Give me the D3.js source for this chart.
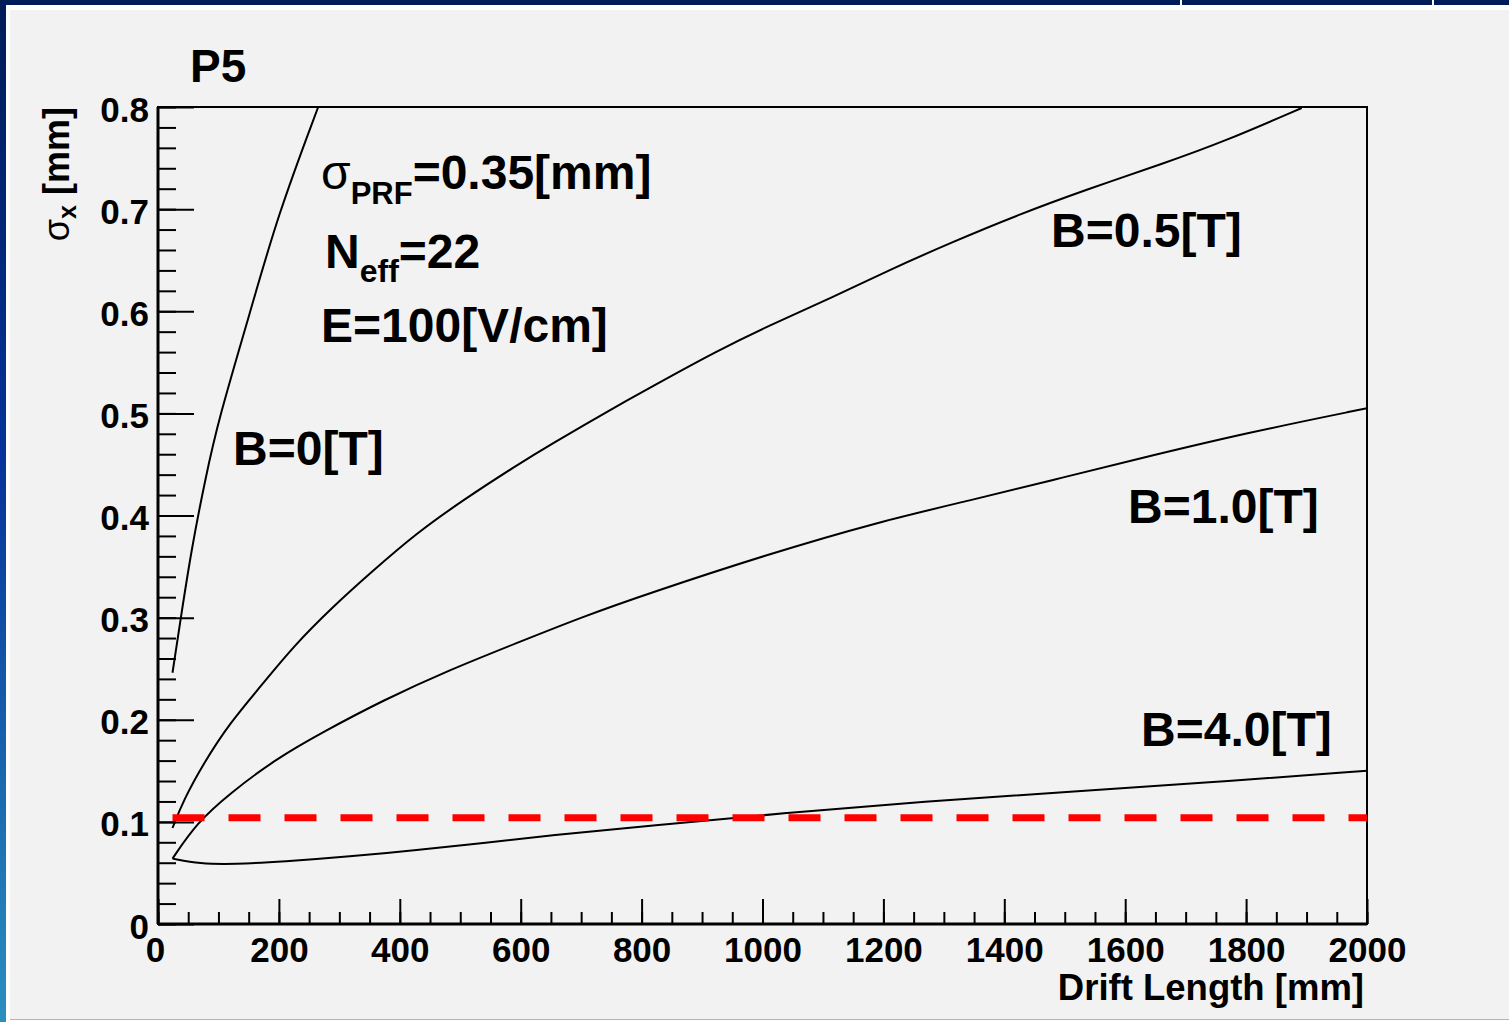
<!DOCTYPE html>
<html>
<head>
<meta charset="utf-8">
<script src="https://cdn.jsdelivr.net/npm/d3@7"></script>
<style>
  body { margin: 0; background: #ffffff; overflow: hidden; }
  text { font-family: "Liberation Sans", Arial, Helvetica, sans-serif; font-weight: bold; fill: #000; }
</style>
</head>
<body>
<div id="my_dataviz"></div>
<script>
// sigma_x [mm] vs drift length [mm]
var curveB00 = [[24, 0.246], [38, 0.301], [56, 0.369], [78, 0.435], [100, 0.494],
  [152, 0.598], [198, 0.694], [265, 0.800]];
var curveB05 = [[24, 0.094], [42, 0.121], [75, 0.157], [119, 0.197], [169, 0.232],
  [224, 0.272], [290, 0.311], [350, 0.343], [428, 0.383], [507, 0.416], [593, 0.449],
  [648, 0.469], [747, 0.503], [813, 0.525], [927, 0.562], [1011, 0.586], [1117, 0.614],
  [1208, 0.640], [1315, 0.668], [1421, 0.694], [1535, 0.719], [1665, 0.745],
  [1763, 0.766], [1892, 0.799]];
var curveB10 = [[24, 0.064], [64, 0.099], [119, 0.128], [196, 0.162], [273, 0.188],
  [372, 0.219], [483, 0.249], [593, 0.275], [703, 0.301], [813, 0.324], [1003, 0.361],
  [1193, 0.394], [1345, 0.415], [1482, 0.435], [1611, 0.454], [1801, 0.481], [2000, 0.505]];
var curveB40 = [[24, 0.064], [69, 0.059], [125, 0.0585], [207, 0.061], [317, 0.066],
  [428, 0.0725], [538, 0.079], [648, 0.087], [813, 0.096], [1041, 0.109], [1269, 0.120],
  [1497, 0.129], [1725, 0.138], [2000, 0.150]];
// red dashed requirement line
var limitLine = [[24, 0.104], [2000, 0.104]];

var xTicks = [0, 200, 400, 600, 800, 1000, 1200, 1400, 1600, 1800, 2000];
var xTickLabels = ["0", "200", "400", "600", "800", "1000", "1200", "1400", "1600", "1800", "2000"];
var yTicks = [0, 0.1, 0.2, 0.3, 0.4, 0.5, 0.6, 0.7, 0.8];
var yTickLabels = ["0", "0.1", "0.2", "0.3", "0.4", "0.5", "0.6", "0.7", "0.8"];
var curveLabels = ["B=0[T]", "B=0.5[T]", "B=1.0[T]", "B=4.0[T]"];

// set the dimensions and margins of the graph
var W = 1509, H = 1022;
var margin = { top: 107, right: 142, bottom: 98, left: 158 },
  width = W - margin.left - margin.right,
  height = H - margin.top - margin.bottom;

var root = d3.select("#my_dataviz")
  .append("svg")
  .attr("width", W)
  .attr("height", H);

// slide background remnants: blue borders and grey canvas
var grad = root.append("defs").append("linearGradient")
  .attr("id", "sideGrad").attr("x1", 0).attr("y1", 0).attr("x2", 0).attr("y2", 1);
grad.append("stop").attr("offset", "0%").attr("stop-color", "#001b57");
grad.append("stop").attr("offset", "45%").attr("stop-color", "#06349a");
grad.append("stop").attr("offset", "100%").attr("stop-color", "#2a8fbf");

root.append("rect").attr("x", 0).attr("y", 0).attr("width", W).attr("height", 5).attr("fill", "#001b57");
root.append("rect").attr("x", 0).attr("y", 0).attr("width", 6).attr("height", H).attr("fill", "url(#sideGrad)");
root.append("rect").attr("x", 10).attr("y", 10).attr("width", W - 10).attr("height", 1009).attr("fill", "#f2f2f2");
root.append("line").attr("x1", 10).attr("x2", W).attr("y1", 1019.5).attr("y2", 1019.5)
  .attr("stroke", "#b4b4b4").attr("stroke-width", 1);
[1181, 1433].forEach(function (xx) {
  root.append("line").attr("x1", xx).attr("x2", xx).attr("y1", 0).attr("y2", 5)
    .attr("stroke", "#ffffff").attr("stroke-width", 2);
});

var svg = root.append("g")
  .attr("transform", "translate(" + margin.left + "," + margin.top + ")");

var x = d3.scaleLinear().domain([0, 2000]).range([0, width]);
var y = d3.scaleLinear().domain([0, 0.8]).range([height, 0]);

svg.append("clipPath").attr("id", "plotClip")
  .append("rect").attr("width", width).attr("height", height);

// minor ticks
svg.append("g")
  .attr("transform", "translate(0," + height + ")")
  .call(d3.axisBottom(x).tickValues(d3.range(0, 2001, 50)).tickSize(-12).tickFormat(""))
  .call(function (g) { g.select(".domain").remove(); });
svg.append("g")
  .call(d3.axisLeft(y).tickValues(d3.range(0, 41).map(function (i) { return i * 0.02; })).tickSize(-18).tickFormat(""))
  .call(function (g) { g.select(".domain").remove(); });

// major ticks + labels
var xAxis = svg.append("g")
  .attr("transform", "translate(0," + height + ")")
  .call(d3.axisBottom(x).tickValues(xTicks).tickSize(-25).tickPadding(13)
    .tickFormat(function (d, i) { return xTickLabels[i]; }));
var yAxis = svg.append("g")
  .call(d3.axisLeft(y).tickValues(yTicks).tickSize(-36).tickPadding(9)
    .tickFormat(function (d, i) { return yTickLabels[i]; }));

[xAxis, yAxis].forEach(function (g) {
  g.select(".domain").remove();
  g.attr("font-size", 35).attr("font-family", null);
});
yAxis.selectAll("text").attr("dy", "0.4em");
svg.selectAll(".tick line").attr("stroke", "#000").attr("stroke-width", 2);
xAxis.selectAll(".tick").filter(function (d) { return d === 0; }).select("text").attr("dx", -3);

// frame
svg.append("rect")
  .attr("width", width).attr("height", height)
  .attr("fill", "none").attr("stroke", "#000").attr("stroke-width", 2);
svg.append("line").attr("x1", 0).attr("x2", 0).attr("y1", 0).attr("y2", height)
  .attr("stroke", "#000").attr("stroke-width", 3);
svg.append("line").attr("x1", 0).attr("x2", width).attr("y1", height).attr("y2", height)
  .attr("stroke", "#000").attr("stroke-width", 3);

// the curves (basis spline smooths out reading noise)
var line = d3.line()
  .x(function (d) { return x(d[0]); })
  .y(function (d) { return y(d[1]); })
  .curve(d3.curveBasis);

var plot = svg.append("g").attr("clip-path", "url(#plotClip)");
[curveB00, curveB05, curveB10, curveB40].forEach(function (c) {
  plot.append("path")
    .datum(c)
    .attr("fill", "none")
    .attr("stroke", "#000")
    .attr("stroke-width", 2)
    .attr("d", line);
});

plot.append("path")
  .datum(limitLine)
  .attr("fill", "none")
  .attr("stroke", "#ff0000")
  .attr("stroke-width", 7)
  .attr("stroke-dasharray", "32,24")
  .attr("d", d3.line().x(function (d) { return x(d[0]); }).y(function (d) { return y(d[1]); }));

// axis titles
root.append("text")
  .attr("x", 1364).attr("y", 1000)
  .attr("text-anchor", "end")
  .attr("font-size", 36.5)
  .text("Drift Length [mm]");

var yt = root.append("text")
  .attr("transform", "translate(69,107) rotate(-90)")
  .attr("text-anchor", "end")
  .attr("font-size", 36);
yt.append("tspan").attr("font-weight", "normal").text("σ");
yt.append("tspan").attr("font-size", 25).attr("dy", 7).text("x");
yt.append("tspan").attr("dy", -7).text(" [mm]");

root.append("text")
  .attr("x", 190).attr("y", 82)
  .attr("font-size", 46)
  .text("P5");

// parameter block
var t1 = root.append("text").attr("x", 321).attr("y", 189).attr("font-size", 48);
t1.append("tspan").attr("font-weight", "normal").text("σ");
t1.append("tspan").attr("font-size", 31).attr("dy", 15).text("PRF");
t1.append("tspan").attr("dy", -15).text("=0.35[mm]");

var t2 = root.append("text").attr("x", 325).attr("y", 268).attr("font-size", 48);
t2.append("tspan").text("N");
t2.append("tspan").attr("font-size", 32).attr("dy", 14).text("eff");
t2.append("tspan").attr("dy", -14).text("=22");

root.append("text").attr("x", 321).attr("y", 342).attr("font-size", 48).text("E=100[V/cm]");

// curve labels
var labelPos = [[233, 465], [1051, 247], [1128, 523], [1141, 746]];
curveLabels.forEach(function (s, i) {
  root.append("text")
    .attr("x", labelPos[i][0]).attr("y", labelPos[i][1])
    .attr("font-size", 48)
    .text(s);
});
</script>
</body>
</html>
